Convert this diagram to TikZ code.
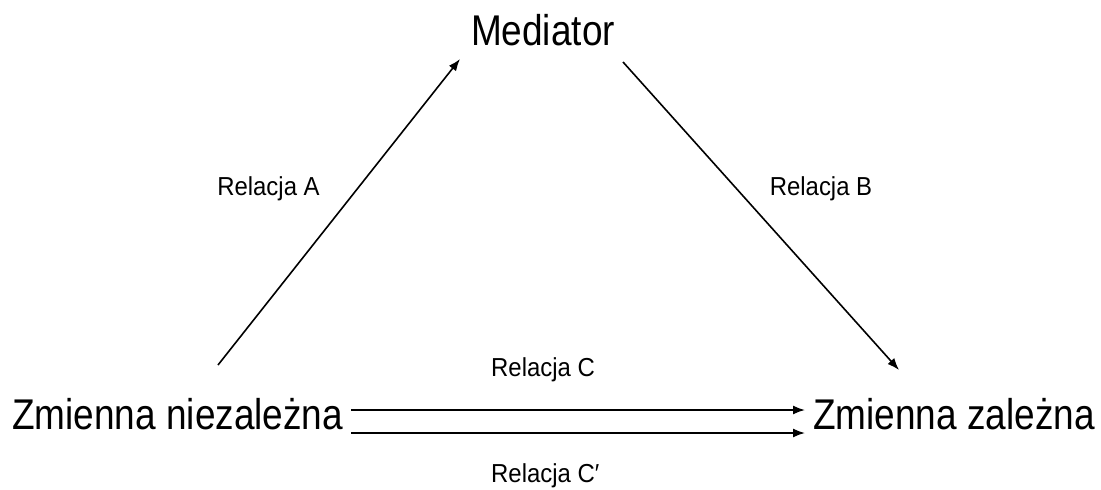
\documentclass[tikz,border=0pt]{standalone}
\usepackage{fontspec}
\setmainfont{Liberation Sans}
\newfontfamily\bigface[FakeStretch=0.86]{Liberation Sans}
\newfontfamily\labelface[FakeStretch=0.92]{Liberation Sans}
\usetikzlibrary{arrows.meta}
\begin{document}
\begin{tikzpicture}[x=1pt,y=-1pt,
  bigtext/.style={inner sep=0pt,font=\bigface\fontsize{43}{47}\selectfont},
  smalltext/.style={inner sep=0pt,anchor=base,font=\labelface\fontsize{26}{30}\selectfont},
  link/.style={line width=1.6pt,-{Latex[length=12pt,width=9pt]}}]
\useasboundingbox (0,0) rectangle (1101,490);
% variables
\node[bigtext,anchor=base] (med) at (543,45) {Mediator};
\node[bigtext,anchor=base west] (ind) at (12,429) {Zmienna niezależna};
\node[bigtext,anchor=base east] (dep) at (1095,429) {Zmienna zależna};
% connector end points
\coordinate (aS) at (218,365);
\coordinate (aE) at (460,59);
\coordinate (bS) at (623,62);
\coordinate (bE) at (899,370);
\coordinate (c1S) at (351,410);
\coordinate (c1E) at (805,410);
\coordinate (c2S) at (351,433);
\coordinate (c2E) at (805,433);
\draw[link] (aS) -- (aE);
\draw[link] (bS) -- (bE);
\draw[link] (c1S) -- (c1E);
\draw[link] (c2S) -- (c2E);
% relation labels
\node[smalltext] (la) at (268.5,195) {Relacja A};
\node[smalltext] (lb) at (821,195) {Relacja B};
\node[smalltext,anchor=base west] (lc) at (491,376) {Relacja C};
\node[smalltext,anchor=base west] (lc2) at (491,482) {Relacja C′};
\end{tikzpicture}
\end{document}
